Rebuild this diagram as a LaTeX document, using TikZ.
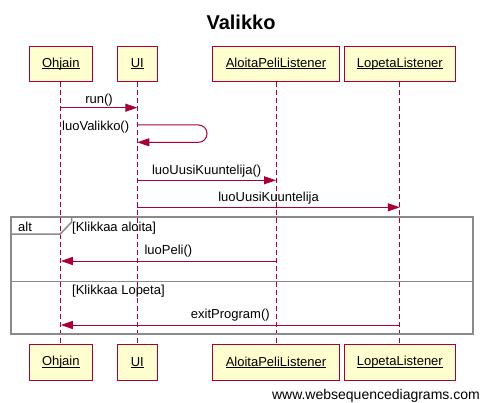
\documentclass[tikz,border=0pt]{standalone}
\usepackage{fontspec}
\setmainfont{Liberation Sans}
\usetikzlibrary{arrows.meta}
\definecolor{wsdred}{HTML}{A80036}
\definecolor{wsdfill}{HTML}{FEFECE}
\definecolor{wsdgray}{HTML}{8A8A8A}
\newcommand\myul[1]{\setbox0\hbox{#1}\rlap{\raisebox{-1.6pt}{\rule{\wd0}{0.9pt}}}\box0}
\tikzset{
  actor/.style={draw=wsdred, line width=1pt, fill=wsdfill, inner sep=0pt,
    minimum height=35.5pt, font=\fontsize{13}{15}\selectfont},
  lifeline/.style={draw=wsdred, line width=1pt, dash pattern=on 5pt off 3pt},
  msg/.style={draw=wsdred, line width=1pt, -{Triangle[length=12pt,width=8pt]}},
  lbl/.style={font=\fontsize{13}{15}\selectfont, inner sep=0pt, anchor=base},
  frameline/.style={draw=wsdgray, line width=2pt},
}
\begin{document}
\begin{tikzpicture}[x=1pt,y=-1pt]
\useasboundingbox (0,0) rectangle (481,403);
% title
\node[font=\bfseries\fontsize{20}{24}\selectfont, inner sep=0pt] (title) at (241,22) {Valikko};
% top actors
\node[actor, minimum width=63pt] (ohjT) at (60.8,63.8) {\myul{Ohjain}};
\node[actor, minimum width=40pt] (uiT) at (137.3,63.8) {\myul{UI}};
\node[actor, minimum width=126.6pt] (aloT) at (276,63.8) {\myul{AloitaPeliListener}};
\node[actor, minimum width=111pt] (lopT) at (399.8,63.8) {\myul{LopetaListener}};
% bottom actors
\node[actor, minimum width=63pt] (ohjB) at (60.8,362.5) {\myul{Ohjain}};
\node[actor, minimum width=40pt] (uiB) at (137.3,362.5) {\myul{UI}};
\node[actor, minimum width=126.6pt] (aloB) at (276,362.5) {\myul{AloitaPeliListener}};
\node[actor, minimum width=111pt] (lopB) at (399.8,362.5) {\myul{LopetaListener}};
% lifelines
\draw[lifeline] (ohjT.south) -- (ohjB.north);
\draw[lifeline] (uiT.south) -- (uiB.north);
\draw[lifeline] (aloT.south) -- (aloB.north);
\draw[lifeline] (lopT.south) -- (lopB.north);
% alt frame
\draw[frameline] (11.3,216.7) rectangle (472.7,334.3);
\draw[draw=wsdgray, line width=1.5pt] (11.3,234) -- (60.3,234) -- (71.7,222) -- (71.7,216.7);
\draw[draw=wsdgray, line width=1pt] (11.3,281.7) -- (472.7,281.7);
\node[lbl, anchor=base west] (alt) at (18,231.5) {alt};
\node[lbl, anchor=base west] (g1) at (72,231.5) {[Klikkaa aloita]};
\node[lbl, anchor=base west] (g2) at (72,294.5) {[Klikkaa Lopeta]};
% message anchor coordinates
\coordinate (m1a) at (ohjT.south |- 0,107.7);
\coordinate (m1b) at (uiT.south |- 0,107.7);
\coordinate (m2a) at (uiT.south |- 0,125);
\coordinate (m2b) at (uiT.south |- 0,142.3);
\coordinate (m3a) at (uiT.south |- 0,180.3);
\coordinate (m3b) at (aloT.south |- 0,180.3);
\coordinate (m4a) at (uiT.south |- 0,207.3);
\coordinate (m4b) at (lopT.south |- 0,207.3);
\coordinate (m5a) at (aloT.south |- 0,261);
\coordinate (m5b) at (ohjT.south |- 0,261);
\coordinate (m6a) at (lopT.south |- 0,325);
\coordinate (m6b) at (ohjT.south |- 0,325);
% messages
\draw[msg] (m1a) -- node[lbl, above=1.5pt] {run()} (m1b);
\draw[msg, rounded corners=8.5pt] (m2a) -- (207,125) -- (207,142.3) -- (m2b);
\node[lbl, anchor=base west] (lv) at (62,131) {luoValikko()};
\draw[msg] (m3a) -- node[lbl, above=3pt] {luoUusiKuuntelija()} (m3b);
\draw[msg] (m4a) -- node[lbl, above=3pt] {luoUusiKuuntelija} (m4b);
\draw[msg] (m5a) -- node[lbl, above=3pt] {luoPeli()} (m5b);
\draw[msg] (m6a) -- node[lbl, above=3pt] {exitProgram()} (m6b);
% footer
\node[font=\fontsize{14}{16}\selectfont, inner sep=0pt, anchor=base east] (foot) at (480,399) {www.websequencediagrams.com};
\end{tikzpicture}
\end{document}
